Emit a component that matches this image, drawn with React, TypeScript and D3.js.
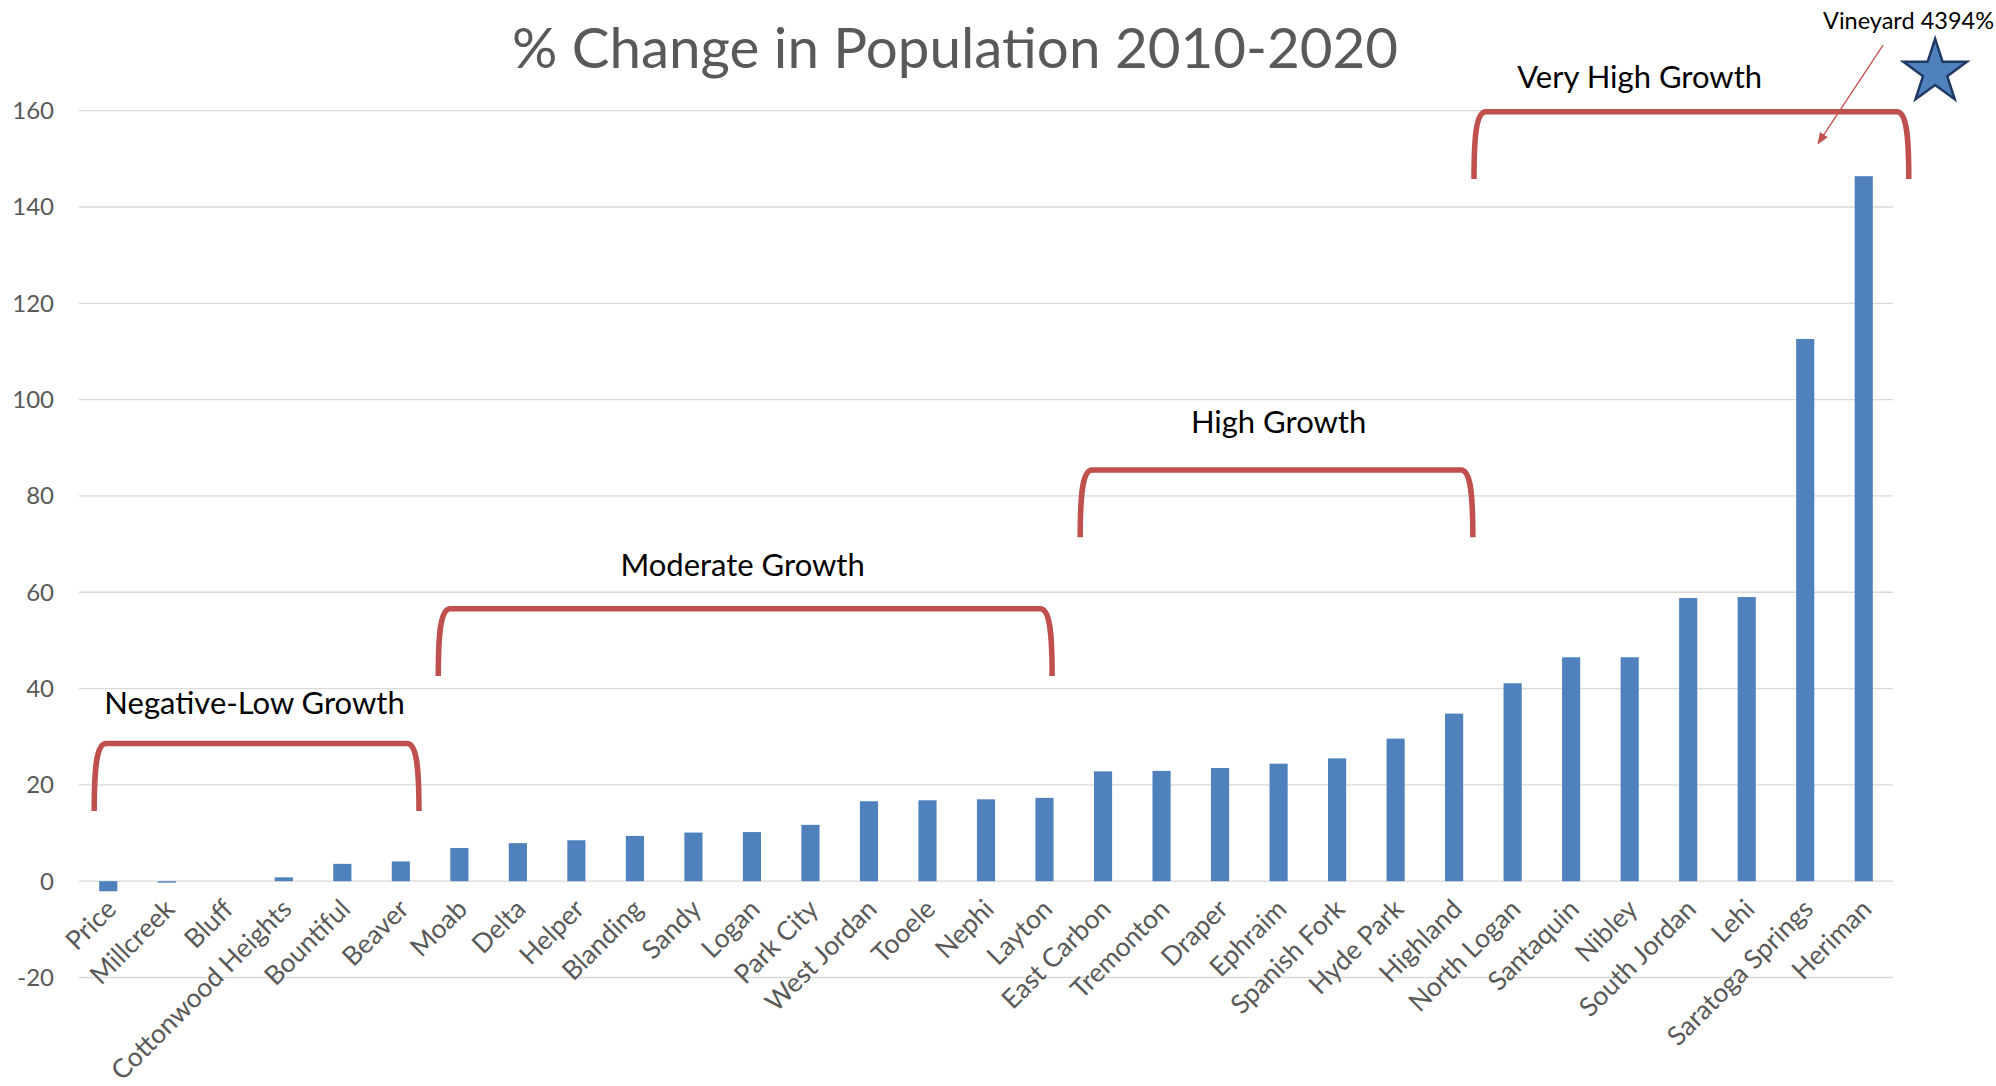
import React from "react";
import * as d3 from "d3";

const cities = [
  "Price", "Millcreek", "Bluff", "Cottonwood Heights", "Bountiful", "Beaver",
  "Moab", "Delta", "Helper", "Blanding", "Sandy", "Logan", "Park City",
  "West Jordan", "Tooele", "Nephi", "Layton", "East Carbon", "Tremonton",
  "Draper", "Ephraim", "Spanish Fork", "Hyde Park", "Highland", "North Logan",
  "Santaquin", "Nibley", "South Jordan", "Lehi", "Saratoga Springs", "Heriman",
];
const pctChange = [
  -2.1, -0.3, 0, 0.8, 3.6, 4.1, 6.9, 7.9, 8.5, 9.4, 10.1, 10.2, 11.7,
  16.6, 16.8, 17.0, 17.3, 22.8, 22.9, 23.5, 24.4, 25.5, 29.6, 34.8, 41.1,
  46.5, 46.5, 58.8, 59.0, 112.6, 146.4,
];
const yTicks = [-20, 0, 20, 40, 60, 80, 100, 120, 140, 160];
const title = "% Change in Population 2010-2020";

// brackets: x in category-index units, y in value units
const bracketLabels = ["Negative-Low Growth", "Moderate Growth", "High Growth", "Very High Growth"];
const bracketX0 = [-0.24, 5.64, 16.61, 23.34];
const bracketX1 = [5.31, 16.13, 23.32, 30.77];
const bracketTop = [28.6, 56.6, 85.4, 159.8];
const bracketBottom = [14.6, 42.6, 71.4, 145.8];
const bracketLabelX = [2.5, 10.84, 20.0, 26.17];
const bracketLabelY = [34.8, 63.4, 93.0, 164.8];

const outlier = { label: "Vineyard 4394%", textY: 177.0, starX: 31.22, starY: 168.0, arrowFrom: [30.33, 173.6], arrowTo: [29.22, 153.2] };

const W = 1996;
const H = 1086;
const BLUE = "#4F81BD";
const RED = "#C0504D";
const GRAY = "#595959";
const FONT = "Lato, 'Open Sans', sans-serif";

export default function App() {
  const x = d3.scaleBand<string>().domain(cities).range([79, 1893]).paddingInner(0).paddingOuter(0);
  const y = d3.scaleLinear().domain([-20, 160]).range([977.5, 110.7]);
  const bw = x.bandwidth();
  const barW = bw * 0.31;
  const cx = (i: number) => (x(cities[0]) as number) + bw / 2 + i * bw;

  const bracketPath = (i: number) => {
    const x0 = cx(bracketX0[i]);
    const x1 = cx(bracketX1[i]);
    const yt = y(bracketTop[i]);
    const yb = y(bracketBottom[i]);
    const r = 12;
    return `M${x0},${yb} C${x0},${yt + 25} ${x0 + 2},${yt} ${x0 + r},${yt} L${x1 - r},${yt} C${x1 - 2},${yt} ${x1},${yt + 25} ${x1},${yb}`;
  };

  const star = d3.symbol().type(d3.symbolStar).size(1250)();

  return (
    <svg width={W} height={H} style={{ position: "absolute", left: 0, top: 0, background: "#fff" }} fontFamily={FONT}>
      <defs>
        <marker id="arrow" viewBox="0 0 10 10" refX="9" refY="5" markerWidth="9" markerHeight="9" orient="auto">
          <path d="M0,1 L10,5 L0,9 z" fill={RED} />
        </marker>
      </defs>
      <rect width={W} height={H} fill="#fff" />
      <text x={955} y={68} textAnchor="middle" fontSize={56.5} fill={GRAY}>{title}</text>
      {yTicks.map((t) => (
        <g key={t}>
          <line x1={79} x2={1893} y1={y(t)} y2={y(t)} stroke="#D9D9D9" strokeWidth={1.3} />
          <text x={54} y={y(t)} dy="0.35em" textAnchor="end" fontSize={24} fill={GRAY}>{t}</text>
        </g>
      ))}
      {cities.map((c, i) => {
        const v = pctChange[i];
        const bx = (x(c) as number) + bw / 2 - barW / 2;
        return (
          <rect key={c} x={bx} y={Math.min(y(v), y(0))} width={barW} height={Math.abs(y(v) - y(0))} fill={BLUE} />
        );
      })}
      {cities.map((c, i) => {
        const tx = (x(c) as number) + bw / 2 + 3;
        const ty = y(0) + 23;
        return (
          <text key={c} x={tx} y={ty} textAnchor="end" fontSize={26.5} fill={GRAY} transform={`rotate(-45 ${tx} ${ty})`} dy="0.35em">
            {c}
          </text>
        );
      })}
      {bracketLabels.map((l, i) => (
        <g key={l}>
          <path d={bracketPath(i)} fill="none" stroke={RED} strokeWidth={5.5} />
          <text x={cx(bracketLabelX[i])} y={y(bracketLabelY[i])} textAnchor="middle" fontSize={31} fill="#000">{l}</text>
        </g>
      ))}
      <text x={W - 2} y={y(outlier.textY)} textAnchor="end" fontSize={23.5} fill="#000">{outlier.label}</text>
      <line x1={cx(outlier.arrowFrom[0])} y1={y(outlier.arrowFrom[1])} x2={cx(outlier.arrowTo[0])} y2={y(outlier.arrowTo[1])} stroke={RED} strokeWidth={1.3} markerEnd="url(#arrow)" />
      <path d={star} transform={`translate(${cx(outlier.starX)},${y(outlier.starY)})`} fill={BLUE} stroke="#1F3864" strokeWidth={2.5} />
    </svg>
  );
}
